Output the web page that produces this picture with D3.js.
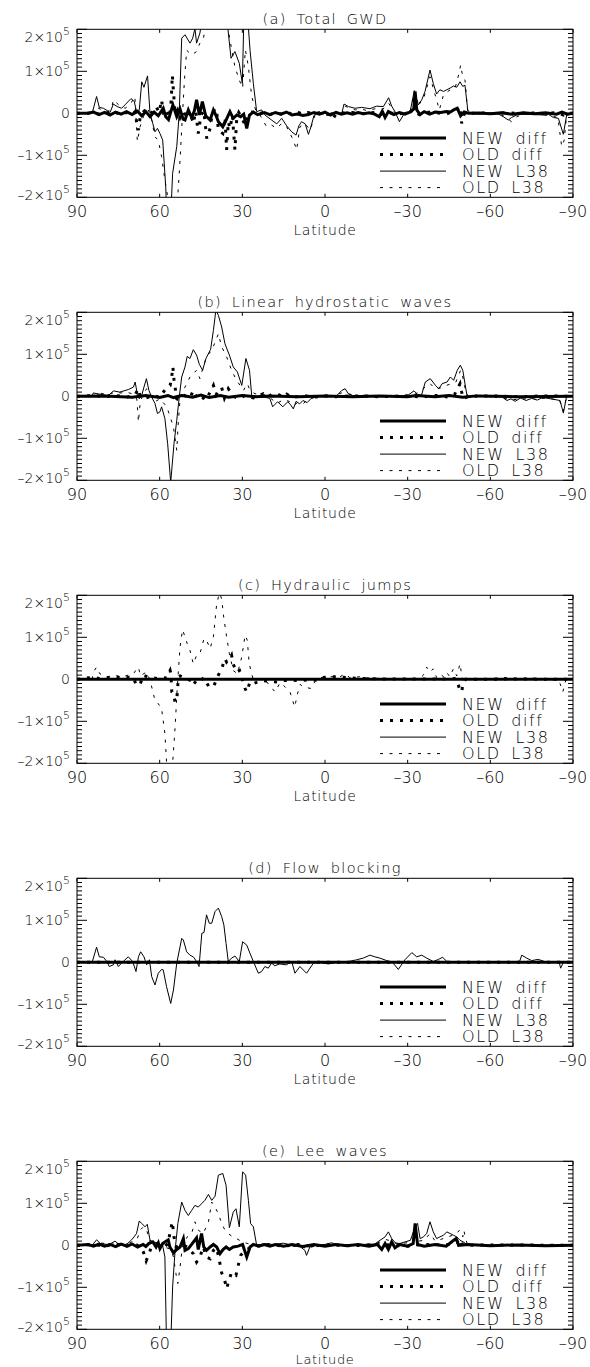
<!DOCTYPE html>
<html><head><meta charset="utf-8">
<script src="https://cdn.jsdelivr.net/npm/d3@7"></script>
<style>
body{margin:0;background:#fff}
svg{display:block}
text{font-family:"DejaVu Sans","Liberation Sans",sans-serif;font-weight:200;fill:#000}
</style>
</head><body><svg id="chart" width="590" height="1367"></svg>
<script>
// values below are [latitude, value in units of 10^3]
const UNIT = 1000;
const xTicks = [90, 60, 30, 0, -30, -60, -90];
const yTicks = [-2e5, -1e5, 0, 1e5, 2e5];
const yMinorStep = 1e4;
const legendLabels = ["NEW diff", "OLD diff", "NEW L38", "OLD L38"];
const titles = ["(a) Total GWD", "(b) Linear hydrostatic waves", "(c) Hydraulic jumps", "(d) Flow blocking", "(e) Lee waves"];

// ---------- (a) Total GWD ----------
const aNewL38 = [[84.5,0],[82.9,40],[81.9,14],[80.4,12],[78,2],[76.8,22],[75.4,16],[73.8,12],[72.6,20],[70.4,35],[69.2,28],[68.3,0],[67.4,8],[66.5,75],[65.7,62],[64.4,89],[63.5,0],[62.5,-24],[61.7,-44],[60.8,-36],[59.9,-48],[58.9,-64],[57.8,-175],[57.2,-280],[56.2,-280],[55.3,-143],[53.8,-79],[52.9,0],[52,179],[50.8,187],[49,167],[48,179],[47.2,202],[46.6,167],[45.4,191],[44.2,240],[42,300],[40,330],[38,300],[36,260],[35.7,230],[34.1,131],[32.7,147],[31.1,119],[30,71],[29.4,240],[28.2,240],[27.2,150],[26,71],[24.8,4],[23,8],[21.8,-4],[19.4,-16],[17.5,-25],[15.7,-12],[13.9,-30],[12.1,-44],[10.5,-52],[9.5,-30],[8.5,-20],[7.2,-25],[6,-50],[5,-30],[4,-5],[3,0],[1,2],[-1,-2],[-3,1],[-5,-1],[-6.1,0],[-6.9,22],[-8.5,16],[-10.9,12],[-13.3,14],[-16.3,11],[-18.7,17],[-21.2,16],[-23.1,37],[-24.2,17],[-25.4,4],[-27,-20],[-29,2],[-30.9,4],[-32.4,54],[-33.9,20],[-35.1,32],[-36.3,52],[-38.1,103],[-39.3,71],[-40.5,46],[-41.7,56],[-43,52],[-44.2,56],[-45.4,60],[-46.6,65],[-47.8,62],[-49,75],[-50,64],[-50.8,67],[-51.8,8],[-52.6,0],[-56,-2],[-60,1],[-63,-2],[-64.7,-8],[-66.5,-16],[-67.7,-10],[-69.6,-4],[-72,-2],[-76,-3],[-79.2,-4],[-81,-2],[-82.9,-10],[-84.7,-12],[-86.5,-50],[-87.7,-4],[-90,0]];
const aOldL38 = [[84.5,0],[83,15],[81,8],[79,4],[77.5,10],[76.8,32],[74.4,17],[72.5,12],[70.8,20],[69,40],[68.1,-67],[67.1,-32],[65.9,-8],[64.1,8],[62.9,-16],[61.7,-56],[60.5,-64],[59.3,-103],[58.1,-159],[56.9,-206],[55.5,-300],[54.2,-260],[53.2,-175],[52.6,-111],[51.7,0],[51,80],[50.2,150],[48.4,139],[46.6,147],[45.4,167],[44.2,175],[43,220],[41,260],[39,280],[37,250],[35.7,222],[34.5,175],[32.7,111],[31.1,79],[29.9,60],[28.9,151],[27.8,111],[26.6,40],[25,4],[23.6,-4],[21.2,-32],[19.4,-28],[17.5,-36],[15.7,-24],[13.9,-32],[11.5,-64],[10.3,-87],[9.1,-32],[7.3,-24],[5.4,-40],[3.6,-4],[2,0],[0,-2],[-2,1],[-4,-1],[-6,0],[-7.3,17],[-9,12],[-11,8],[-13,10],[-15,7],[-17,9],[-19,12],[-21,10],[-23.1,24],[-24.5,10],[-25.5,0],[-27.2,-4],[-29,2],[-31,4],[-32.3,48],[-34.5,24],[-36,40],[-38.1,87],[-39.5,55],[-40.5,32],[-41.5,8],[-43,44],[-45.4,56],[-47.2,60],[-48.8,99],[-49.2,115],[-50,87],[-50.8,79],[-51.8,4],[-53,0],[-60,1],[-64,-3],[-66,-12],[-67.7,-20],[-69.6,-8],[-72,-2],[-78,-3],[-82,-6],[-84.5,-10],[-85.9,-79],[-86.8,-64],[-87.7,-4],[-90,0]];
const aNewDiff = [[90,0],[86,0],[84,3],[82,-3],[80,2],[78,-4],[76,3],[74,-2],[72,4],[70,-3],[68,5],[66.5,-6],[65,4],[63.5,-8],[62,3],[60.5,-6],[58.7,12],[57.8,-8],[56.8,-15],[55.2,20],[53.8,-8],[52.6,10],[51.5,-14],[50.8,-16],[49.6,8],[48.4,-10],[47.4,6],[46.6,32],[45.6,-4],[44.5,28],[43.3,-6],[41.7,-16],[40.5,8],[39.5,-6],[38.7,-20],[37.1,-32],[35.9,-16],[34.5,4],[33.3,-12],[32,-4],[30.6,-8],[29.5,-2],[28.4,-36],[27.4,-4],[26,3],[24.5,-3],[22,2],[20,-3],[18,2],[16,-2],[14,3],[12,-4],[10,-2],[8,-5],[6,-3],[4,2],[2,-2],[0,3],[-2,-4],[-4,2],[-6,-2],[-8,1],[-10,-2],[-12,2],[-14,-1],[-16,1],[-18,-2],[-19.7,-8],[-20.8,5],[-21.8,-10],[-23,4],[-25,-3],[-27,2],[-29,-2],[-31,3],[-32.2,10],[-32.7,52],[-33.3,8],[-34.5,-3],[-36,4],[-38,-2],[-40,3],[-42,2],[-44,4],[-45.5,3],[-46.7,8],[-48,12],[-49.2,-6],[-50.5,3],[-52,0],[-56,1],[-60,-1],[-64,1],[-68,-2],[-72,1],[-76,-1],[-80,1],[-84,-2],[-86,3],[-88,-2],[-90,0]];
const aOldDiff = [[90,0],[86,0],[84,2],[82,-2],[80,3],[78,-2],[76,2],[74,-3],[72,2],[70,-4],[68.9,4],[68.3,-24],[67.7,-40],[67,-5],[65.5,6],[64,-3],[62.5,4],[61.3,16],[60.2,2],[59.3,32],[58.6,-6],[57.5,4],[56.5,-10],[55.8,30],[55.4,91],[55,52],[54.4,-2],[53.5,8],[52.6,-10],[51.5,6],[50.2,-12],[49,4],[47.8,-24],[46.9,5],[46,-48],[45,-4],[44,6],[42.9,-60],[41.7,-36],[41,-5],[39.9,12],[39.3,4],[38.7,-40],[37.1,-48],[36.3,-10],[35.7,-87],[35.1,-20],[34.5,-36],[33.6,-5],[32.7,-87],[32,-10],[31.3,2],[30.4,-8],[29,-28],[28,-4],[27,3],[25.5,2],[24,-2],[22,3],[20,-3],[18,2],[16,-2],[14,3],[12,-2],[10,3],[8,-2],[6,2],[4,-3],[2,2],[0,-2],[-2,-3],[-3,-12],[-4,-2],[-6,2],[-8,-1],[-10,2],[-14,-1],[-18,2],[-20,-4],[-22,3],[-26,-2],[-30,2],[-32.5,8],[-34,-2],[-36,3],[-40,2],[-44,-2],[-47,6],[-48.5,12],[-49,16],[-49.6,-24],[-50.3,-4],[-51.5,3],[-53,0],[-58,1],[-62,-1],[-66,2],[-70,-1],[-75,1],[-80,-1],[-84,2],[-86.5,-4],[-88,2],[-90,0]];

// ---------- (b) Linear hydrostatic waves ----------
const bNewL38 = [[84.5,0],[84.1,8],[81.7,5],[79.2,2],[78,5],[76.8,13],[74.5,10],[71.4,16],[69.5,22],[68.9,34],[68.1,5],[67.4,-6],[66.5,2],[65.7,22],[64.8,42],[63.9,14],[62.9,-2],[61.7,-17],[60.8,-41],[59.9,-37],[59.3,-25],[58.1,-53],[57.1,-113],[56,-205],[54.8,-113],[53.8,-57],[52.9,-2],[52,46],[50.8,70],[50,95],[49,90],[47.8,111],[46.6,98],[45.6,76],[44.4,62],[43.2,90],[41.5,112],[40.5,157],[39.6,205],[38.7,193],[37.5,165],[36.3,125],[34.7,98],[33.3,70],[31.8,58],[30.2,26],[28.7,90],[27.4,62],[26.6,2],[24.5,0],[22,-2],[20,-5],[19,-25],[17.2,-13],[15.3,-25],[13.5,-13],[12.5,-20],[11.5,-30],[10.5,-12],[9.2,-18],[8,-10],[6.5,-15],[5,-5],[3.5,-2],[2,0],[0,-1],[-2,1],[-4,0],[-6.1,14],[-7.3,18],[-8.5,6],[-10,2],[-12,1],[-15,3],[-18,0],[-22,2],[-26,1],[-30,2],[-32.3,13],[-33.5,5],[-35,2],[-36.4,34],[-38.2,42],[-40.1,26],[-41.3,18],[-42.5,30],[-44.3,34],[-45.5,46],[-46.7,38],[-48,62],[-49.1,74],[-50,62],[-51,22],[-51.6,0],[-55,1],[-60,-1],[-64,0],[-66,-10],[-67.5,-6],[-69,-12],[-71,-4],[-73,-10],[-75,-5],[-77,-9],[-79,-3],[-82,-6],[-85.3,-10],[-86.5,-40],[-87.7,0],[-90,0]];
const bOldL38 = [[84.5,0],[82,8],[79,4],[76,10],[74,8],[72,10],[70,6],[68.3,-6],[67.7,-61],[67.1,-17],[65.9,10],[64.6,18],[63,0],[61.7,-13],[59.9,-6],[57.4,-25],[56.2,-49],[55,-73],[53.8,-129],[53.2,-57],[52.5,0],[50.8,22],[49,46],[46.6,62],[45.4,42],[44.2,70],[43,94],[41.1,110],[39.6,133],[38.7,149],[37.5,118],[35.7,94],[33.9,62],[32.1,38],[30.8,26],[29.6,14],[28.2,30],[27.2,14],[25.4,6],[22.4,5],[20,-3],[17.5,-17],[15,-8],[13,-12],[11.1,-21],[10,-15],[8,-18],[6,-6],[4,-3],[2,0],[-2,0],[-6,8],[-8,6],[-12,2],[-20,1],[-30,3],[-33,6],[-36.4,22],[-38.2,30],[-40,18],[-42,20],[-44,26],[-46,30],[-47.5,34],[-49.2,62],[-50,46],[-51,14],[-52,0],[-60,0],[-66,-6],[-70,-8],[-75,-4],[-80,-5],[-85,-8],[-86.5,-35],[-87.7,0],[-90,0]];
const bNewDiff = [[90,0],[80,1],[70,-2],[65,2],[60,-3],[57,2],[55,-3],[52,2],[48,-2],[45,3],[42,-3],[38,2],[35,-2],[30,2],[25,-1],[20,1],[10,-1],[0,1],[-10,-1],[-20,1],[-30,-1],[-33,2],[-40,-1],[-45,2],[-50,-2],[-55,1],[-70,-1],[-90,0]];
const bOldDiff = [[90,0],[84,2],[80,-1],[76,2],[72,-2],[69,3],[67.7,18],[67.1,0],[65,-4],[62,2],[60,-3],[57.4,22],[56.2,26],[55.6,48],[55.2,70],[54.8,40],[53.8,-6],[52.9,-9],[51,2],[49,-4],[47.8,14],[46.5,-3],[45,2],[43.6,-9],[42.5,0],[40.5,26],[39.5,4],[38.7,14],[37.5,21],[36.5,-4],[35.1,18],[33.3,0],[31,-6],[29,3],[26,-4],[24,2],[22.4,6],[20.5,-2],[19.4,5],[17.5,6],[15,-2],[13.9,5],[12,-3],[8,2],[4,-2],[0,1],[-4,-1],[-10,1],[-20,-1],[-30,1],[-35,-2],[-40,2],[-45,-2],[-47,4],[-49,30],[-49.6,10],[-50.2,-6],[-52,0],[-60,1],[-70,-1],[-80,1],[-90,0]];

// ---------- (c) Hydraulic jumps ----------
const cNewL38 = [[84.5,0],[-90,0]];
const cOldL38 = [[84.5,0],[84.1,17],[82.9,29],[81.7,13],[79.2,6],[77.5,8],[76.2,10],[74,5],[71.4,10],[69.5,13],[68.3,25],[67.7,29],[67,8],[65.9,13],[64.7,17],[63.5,-2],[61.7,-50],[60.5,-58],[59.3,-70],[58.1,-129],[57.2,-230],[55.6,-230],[54.4,-114],[53.6,-18],[52.6,77],[51.7,118],[50.8,101],[50,85],[49,69],[47.8,37],[46.6,57],[45.4,61],[43.9,97],[43,93],[41.7,73],[40.5,101],[39.3,180],[38.3,205],[37.5,192],[36.7,145],[35.7,101],[34.7,61],[33.3,21],[31.8,13],[30.2,53],[29,105],[28.2,93],[27.5,37],[26,-2],[23.6,2],[21.2,-6],[18.1,-30],[16.3,-8],[14.5,-18],[12.7,-30],[11,-66],[10,-35],[9,-12],[8,-18],[6.5,-20],[5,-22],[3.5,-3],[1.8,4],[-1.8,6],[-5.4,6],[-7.3,13],[-9,4],[-12.7,6],[-16,3],[-20,2],[-25,2],[-30,2],[-34,-1],[-35.7,10],[-36.9,29],[-38.1,17],[-39.3,25],[-40.5,4],[-41.8,13],[-43,6],[-44.1,17],[-45.3,6],[-46.6,25],[-47.8,8],[-49,37],[-49.6,10],[-50.2,-6],[-51,3],[-52.5,0],[-58,1],[-64.7,4],[-70,2],[-75,3],[-80,0],[-84,-2],[-85.3,-10],[-86.3,-30],[-87.5,0],[-90,0]];
const cNewDiff = [[90,0],[-90,0]];
const cOldDiff = [[90,0],[84,5],[82,2],[79,4],[76,6],[73,3],[71,5],[69.5,4],[68.5,-14],[67.1,-12],[65.9,10],[64.5,6],[63,4],[61,2],[59,4],[57.5,3],[56.2,21],[55.9,13],[55.6,-30],[55,-34],[54.4,-54],[53.8,-50],[53.2,6],[52.6,8],[50.5,2],[48.5,-4],[48,-14],[46.6,-3],[45.4,-6],[44,4],[42.2,-17],[40.5,-18],[38.7,10],[37.5,25],[36.3,49],[35.7,41],[34.5,49],[33.9,57],[33.3,36],[32.1,17],[31,21],[30.2,5],[29,-22],[28.4,-30],[27.2,-6],[26,-10],[23,-3],[20,-5],[17,-7],[15,-3],[12,-2],[9,-3],[6,-1],[3,-2],[1.8,4],[-1.8,6],[-5.4,6],[-8,4],[-12,2],[-20,1],[-30,1],[-40,1],[-45,1],[-47.5,2],[-48.4,-14],[-49,-26],[-49.6,-30],[-50.2,-6],[-51,0],[-60,0],[-70,1],[-80,0],[-90,0]];

// ---------- (d) Flow blocking ----------
const dNewL38 = [[84.5,0],[82.9,36],[81.9,13],[80.4,12],[79.2,2],[78.3,-10],[76.8,-6],[76.2,6],[75,-10],[73.2,2],[71.4,13],[69.8,2],[68.6,-22],[67.7,13],[66.9,25],[65.7,13],[64.7,-6],[63.7,6],[62.9,-34],[61.7,-54],[60.5,-26],[59.3,-17],[58.7,-18],[57.5,-58],[56,-98],[55,-66],[53.8,-2],[52,57],[51.4,53],[50.2,25],[49,17],[47.8,13],[46.6,2],[45.7,-10],[44.7,69],[43.9,71],[43,113],[42,93],[41.1,93],[39.9,121],[38.7,129],[37.5,109],[36.7,89],[35.9,45],[35.1,2],[33.9,10],[32.7,15],[31.1,2],[29.9,49],[28.4,41],[27.2,21],[26,2],[24.2,-26],[23,-22],[21.8,-10],[20.6,-14],[19.4,-2],[18.2,-8],[16.4,-4],[14,-6],[12.1,2],[10.9,-26],[9.1,-10],[6.7,-26],[4.2,-2],[2,0],[-1.2,-4],[-4,0],[-8,1],[-11.5,6],[-13.9,10],[-16.3,17],[-18.1,13],[-19.9,10],[-22.4,4],[-24.5,0],[-26.6,-17],[-29,6],[-31.5,23],[-33.3,13],[-35.1,17],[-36.9,10],[-39.3,2],[-41.2,7],[-42.7,12],[-44.2,2],[-46,0],[-55,0],[-65,0],[-70.5,0],[-71.4,17],[-73.2,10],[-75,4],[-77.4,7],[-80.5,0],[-85,0],[-85.5,-14],[-86.5,0],[-90,0]];
const dOldL38 = [[84.5,0],[-90,0]];
const dNewDiff = [[90,0],[-90,0]];
const dOldDiff = [[90,0],[-90,0]];

// ---------- (e) Lee waves ----------
const eNewL38 = [[84.5,0],[82.9,13],[81.5,4],[79,2],[77.5,5],[76.2,10],[75,3],[73,0],[71.5,5],[70.2,13],[69.3,20],[68.4,28],[67.4,58],[66.5,52],[65.3,44],[64.5,50],[63.5,12],[62.3,8],[61,6],[60,0],[59,2],[58.1,-28],[57.5,-240],[56,-240],[55.3,-99],[54.4,-12],[53.4,52],[52,103],[50.8,83],[49.6,71],[48.4,83],[47.2,95],[46,91],[44.8,99],[43.6,107],[42.3,121],[41.1,107],[39.9,117],[38.7,167],[37.1,171],[35.9,143],[34.7,42],[33.3,79],[32.3,87],[31.1,44],[29.9,175],[28.8,167],[27.8,107],[27,52],[26,44],[24.8,0],[22,4],[19,2],[15,5],[12,0],[10,2],[8.5,-6],[7.3,-12],[6.7,-24],[5.5,-4],[3,0],[0,2],[-2.4,6],[-4,2],[-8,1],[-14,2],[-18,3],[-20,12],[-21.8,20],[-23,32],[-24.2,16],[-25.5,6],[-27,4],[-31,12],[-32.7,44],[-33.6,52],[-34.5,16],[-35.7,20],[-36.9,28],[-38.1,56],[-39.3,32],[-40.5,16],[-41.7,20],[-43,24],[-44.2,32],[-45.4,28],[-46.6,24],[-47.8,20],[-49,12],[-50.2,8],[-51.5,2],[-55,0],[-70,1],[-85,0],[-90,0]];
const eOldL38 = [[84.5,0],[82,6],[78,3],[74,4],[71,6],[69.3,10],[68.2,14],[67.1,36],[65.9,44],[64.7,36],[63.5,8],[61,3],[58,-5],[56.5,-8],[55.6,-15],[55,-28],[54,-71],[53.4,-91],[52.6,-52],[51.7,0],[50,20],[48.4,28],[47.2,56],[46,36],[44.2,28],[42.3,56],[41.1,103],[39.9,91],[38.7,75],[37.5,52],[36.3,36],[35.1,28],[33.5,20],[32.1,16],[30,8],[28,4],[25,0],[20,2],[12,-2],[8,-5],[6,-8],[4,-2],[0,1],[-10,2],[-18,3],[-20,8],[-22,14],[-24,10],[-26,4],[-30,6],[-32.5,20],[-34,10],[-36,12],[-38.1,28],[-40,10],[-42,14],[-44.5,20],[-46.5,24],[-47.8,28],[-48.8,36],[-49.6,32],[-50,20],[-50.4,36],[-51,16],[-51.6,4],[-55,0],[-90,0]];
const eNewDiff = [[90,0],[86,2],[84,-2],[82,3],[80,-2],[78,2],[76,-3],[74,3],[72,-2],[70,3],[68,-4],[66,2],[65,-3],[64,4],[62.5,8],[61.3,-4],[60.5,6],[59.9,-8],[58.9,4],[58.1,8],[56.9,13],[56.3,-4],[55,-18],[53.8,-10],[52.6,-4],[51.4,16],[50.8,-12],[49.6,-8],[48.4,2],[46.6,18],[46,-10],[44.8,28],[44,-4],[43,-12],[41.7,-4],[40.5,2],[39.3,-4],[38.1,-20],[37,-10],[35.9,-4],[34.7,-10],[33.3,-4],[31.5,-2],[29.9,2],[28.4,-28],[27.2,-4],[26,2],[24,-2],[22,2],[20,-2],[18,2],[15,-2],[12,2],[8,-3],[4,2],[0,-2],[-4,2],[-8,-1],[-12,2],[-16,-2],[-19,2],[-20.6,-10],[-21.8,4],[-23,-10],[-24.2,8],[-25.4,-6],[-27,2],[-30,-2],[-32,4],[-32.7,52],[-33.6,2],[-36,-2],[-40,2],[-44,-2],[-46.7,12],[-47.6,16],[-48.5,0],[-52,2],[-60,-1],[-70,1],[-80,-1],[-90,0]];
const eOldDiff = [[90,0],[84,2],[80,-2],[76,3],[72,-2],[69,3],[67,-4],[65.9,-16],[64.9,-37],[64.1,-24],[63,-4],[61,3],[58,-2],[57,4],[56.2,32],[55.4,56],[54.8,20],[54,-4],[52,2],[50,-4],[47.8,-20],[46.6,-40],[45.4,-28],[44.2,-4],[43,-28],[41.7,-32],[40.5,-12],[39.3,-6],[38.1,-44],[37.5,-66],[36.7,-75],[35.7,-103],[35,-87],[33.9,-64],[32.3,-71],[31.5,-48],[30.6,-24],[29,-12],[27,-6],[25,-2],[20,2],[15,-2],[10,2],[5,-2],[0,1],[-10,-1],[-20,2],[-30,-2],[-35,2],[-40,1],[-45,2],[-48,8],[-48.8,16],[-49.5,4],[-52,0],[-60,1],[-90,0]];

const panels = [
  {title: titles[0], newL38: aNewL38, oldL38: aOldL38, newDiff: aNewDiff, oldDiff: aOldDiff},
  {title: titles[1], newL38: bNewL38, oldL38: bOldL38, newDiff: bNewDiff, oldDiff: bOldDiff},
  {title: titles[2], newL38: cNewL38, oldL38: cOldL38, newDiff: cNewDiff, oldDiff: cOldDiff},
  {title: titles[3], newL38: dNewL38, oldL38: dOldL38, newDiff: dNewDiff, oldDiff: dOldDiff},
  {title: titles[4], newL38: eNewL38, oldL38: eOldL38, newDiff: eNewDiff, oldDiff: eOldDiff}
];

// ---------- styles / layout ----------
const seriesKeys = ["newDiff", "oldDiff", "newL38", "oldL38"];
const styles = {
  newDiff: {w: 3, dash: null},
  oldDiff: {w: 3, dash: "3,7"},
  newL38: {w: 1, dash: null},
  oldL38: {w: 1, dash: "3,6.5"}
};
const drawOrder = ["newL38", "oldL38", "oldDiff", "newDiff"];
const W = 590, H = 1367;
const L = 77, R = 573, PH = 168, TOP0 = 29.3, STEP = 283;

const svg = d3.select("#chart");
const x = d3.scaleLinear().domain([90, -90]).range([L, R]);

function yLabel(sel, v) {
  if (v === 0) { sel.text("0"); return; }
  const m = v / 1e5;
  sel.append("tspan").text((m < 0 ? "\u2013" : "") + Math.abs(m) + "\u00d710");
  sel.append("tspan").attr("dy", -7).attr("font-size", 11).text("5");
}

panels.forEach((p, i) => {
  const top = TOP0 + i * STEP, bot = top + PH;
  const y = d3.scaleLinear().domain([-2e5, 2e5]).range([bot, top]);
  const g = svg.append("g");
  const cid = "clip" + i;
  svg.append("clipPath").attr("id", cid).append("rect")
    .attr("x", L).attr("y", top).attr("width", R - L).attr("height", PH);

  const line = d3.line().x(d => x(d[0])).y(d => y(d[1] * UNIT));
  const pg = g.append("g").attr("clip-path", `url(#${cid})`);
  drawOrder.forEach(k => {
    const st = styles[k];
    pg.append("path").datum(p[k]).attr("d", line)
      .attr("fill", "none").attr("stroke", "#000")
      .attr("stroke-width", st.w)
      .attr("stroke-dasharray", st.dash);
  });

  // frame
  g.append("rect").attr("x", L).attr("y", top).attr("width", R - L).attr("height", PH)
    .attr("fill", "none").attr("stroke", "#000").attr("stroke-width", 1);

  // x ticks (top & bottom, inward)
  xTicks.forEach(t => {
    const xx = x(t);
    g.append("line").attr("x1", xx).attr("x2", xx).attr("y1", bot).attr("y2", bot - 3.5).attr("stroke", "#000");
    g.append("line").attr("x1", xx).attr("x2", xx).attr("y1", top).attr("y2", top + 3.5).attr("stroke", "#000");
    g.append("text").attr("x", xx).attr("y", bot + 19.5).attr("text-anchor", "middle")
      .attr("font-size", 16).text(t < 0 ? "\u2013" + Math.abs(t) : String(t));
  });
  const latY = Math.min(bot + 38, H - 3);
  g.append("text").attr("x", (L + R) / 2).attr("y", latY).attr("text-anchor", "middle")
    .attr("font-size", latY < bot + 38 ? 13 : 14).attr("letter-spacing", 0.7).text("Latitude");

  // y ticks: minor every 1e4, major at labelled values
  d3.range(-2e5, 2e5 + 1, yMinorStep).forEach(v => {
    const yy = y(v);
    const major = yTicks.includes(v);
    const len = major ? 10 : 5;
    g.append("line").attr("x1", L).attr("x2", L + len).attr("y1", yy).attr("y2", yy).attr("stroke", "#000");
    g.append("line").attr("x1", R).attr("x2", R - len).attr("y1", yy).attr("y2", yy).attr("stroke", "#000");
  });
  const yMax = d3.max(yTicks), yMin = d3.min(yTicks);
  yTicks.forEach(v => {
    const nudge = v === yMax ? 7.5 : (v === yMin ? -2 : 0);
    const t = g.append("text").attr("x", 70).attr("y", y(v) + 5 + nudge).attr("text-anchor", "end")
      .attr("font-size", 14);
    yLabel(t, v);
  });

  // title
  g.append("text").attr("x", (L + R) / 2).attr("y", top - 5).attr("text-anchor", "middle")
    .attr("font-size", 14.5).attr("letter-spacing", 1.3).attr("word-spacing", 4).text(p.title);

  // legend
  seriesKeys.forEach((k, j) => {
    const base = top + 114.3 + j * 16.5;
    const st = styles[k];
    g.append("line").attr("x1", 380).attr("x2", 446).attr("y1", base - 5.5).attr("y2", base - 5.5)
      .attr("stroke", "#000").attr("stroke-width", st.w).attr("stroke-dasharray", st.dash);
    g.append("text").attr("x", 462).attr("y", base).attr("font-size", 16)
      .attr("letter-spacing", 1.6).attr("word-spacing", 4).text(legendLabels[j]);
  });
});
</script>
</body></html>
